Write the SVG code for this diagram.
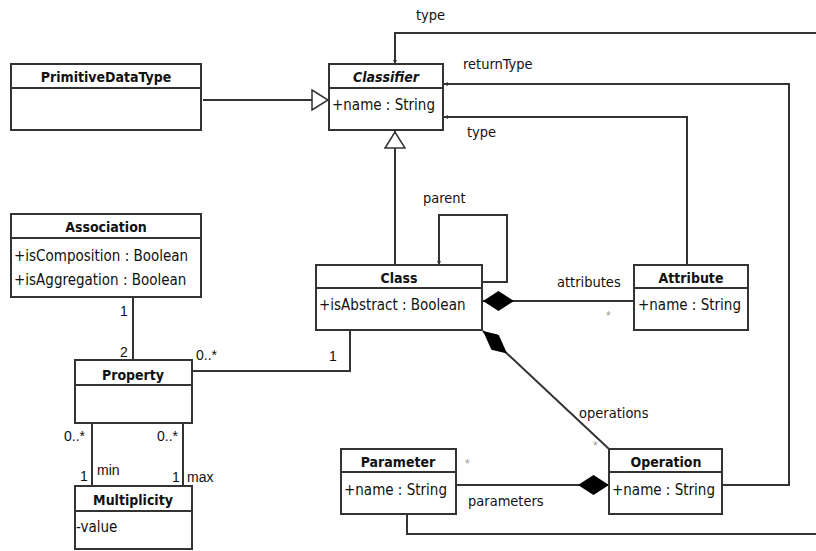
<svg xmlns="http://www.w3.org/2000/svg" width="816" height="551" viewBox="0 0 816 551">
<style>
.box{fill:#fff;stroke:#333;stroke-width:2}
.sep{stroke:#333;stroke-width:2}
.ln{fill:none;stroke:#333;stroke-width:2}
.hd{font-family:"DejaVu Sans Condensed","DejaVu Sans",sans-serif;font-weight:bold;font-size:14px;fill:#111;text-anchor:middle}
.at{font-family:"DejaVu Sans Condensed","DejaVu Sans",sans-serif;font-size:15px;fill:#111}
.lb{font-family:"DejaVu Sans Condensed","DejaVu Sans",sans-serif;font-size:14.5px;fill:#111}
.mu{font-family:"Liberation Sans",Arial,sans-serif;font-size:14px;fill:#111}
.st{font-family:"Liberation Sans",Arial,sans-serif;font-size:12px;fill:#999}
</style>
<defs>
<marker id="tri" viewBox="0 0 18 22" refX="18" refY="11" markerWidth="18" markerHeight="22" markerUnits="userSpaceOnUse" orient="auto">
<path d="M1,1 L17,11 L1,21 Z" fill="#fff" stroke="#333" stroke-width="1.5"/>
</marker>
<marker id="dia" viewBox="0 0 31 20" refX="0" refY="10" markerWidth="31" markerHeight="20" markerUnits="userSpaceOnUse" orient="auto">
<path d="M0,10 L15.5,0 L31,10 L15.5,20 Z" fill="#000"/>
</marker>
<marker id="dia2" viewBox="0 0 33 16" refX="0" refY="8" markerWidth="33" markerHeight="16" markerUnits="userSpaceOnUse" orient="auto">
<path d="M0,8 L14,0 L33,8 L19,16 Z" fill="#000"/>
</marker>
<marker id="arr" viewBox="0 0 4 4" refX="4" refY="2" markerWidth="4" markerHeight="4" markerUnits="userSpaceOnUse" orient="auto">
<path d="M0,0 L4,2 L0,4 Z" fill="#333"/>
</marker>
</defs>

<g id="connectors">
<path class="ln" d="M203,100 L329,100" marker-end="url(#tri)"/>
<path class="ln" d="M395,265 L395,131" marker-end="url(#tri)"/>
<path class="ln" d="M816,33 L395,33 L395,64" marker-end="url(#arr)"/>
<path class="ln" d="M722,485 L789,485 L789,84 L444,84" marker-end="url(#arr)"/>
<path class="ln" d="M687,265 L687,117 L444,117" marker-end="url(#arr)"/>
<path class="ln" d="M482,282 L507,282 L507,215 L439,215 L439,265" marker-end="url(#arr)"/>
<path class="ln" d="M483,301 L634,301" marker-start="url(#dia)"/>
<path class="ln" d="M483,331 L609,449" marker-start="url(#dia2)"/>
<path class="ln" d="M609,485 L457,485" marker-start="url(#dia)"/>
<path class="ln" d="M407,514 L407,534 L816,534"/>
<path class="ln" d="M133,297 L133,360"/>
<path class="ln" d="M192,371 L350,371 L350,330"/>
<path class="ln" d="M92,423 L92,486"/>
<path class="ln" d="M183,423 L183,486"/>
</g>

<g id="PrimitiveDataType">
<rect class="box" x="11" y="64" width="190" height="66"/>
<line class="sep" x1="11" y1="88" x2="201" y2="88"/>
<text class="hd" x="106" y="82">PrimitiveDataType</text>
</g>

<g id="Classifier">
<rect class="box" x="329" y="64" width="114" height="66"/>
<line class="sep" x1="329" y1="88" x2="443" y2="88"/>
<text class="hd" x="386" y="82" font-style="italic">Classifier</text>
<text class="at" x="332" y="110">+name : String</text>
</g>

<g id="Association">
<rect class="box" x="11" y="214" width="190" height="83"/>
<line class="sep" x1="11" y1="238" x2="201" y2="238"/>
<text class="hd" x="106" y="232">Association</text>
<text class="at" x="14" y="261">+isComposition : Boolean</text>
<text class="at" x="14" y="285">+isAggregation : Boolean</text>
</g>

<g id="Class">
<rect class="box" x="316" y="265" width="166" height="65"/>
<line class="sep" x1="316" y1="288" x2="482" y2="288"/>
<text class="hd" x="399" y="283">Class</text>
<text class="at" x="319" y="310">+isAbstract : Boolean</text>
</g>

<g id="Attribute">
<rect class="box" x="634" y="265" width="114" height="65"/>
<line class="sep" x1="634" y1="288" x2="748" y2="288"/>
<text class="hd" x="691" y="283">Attribute</text>
<text class="at" x="638" y="310">+name : String</text>
</g>

<g id="Property">
<rect class="box" x="75" y="360" width="117" height="63"/>
<line class="sep" x1="75" y1="385" x2="192" y2="385"/>
<text class="hd" x="133" y="380">Property</text>
</g>

<g id="Multiplicity">
<rect class="box" x="75" y="486" width="117" height="63"/>
<line class="sep" x1="75" y1="511" x2="192" y2="511"/>
<text class="hd" x="133" y="505">Multiplicity</text>
<text class="at" x="76" y="532">-value</text>
</g>

<g id="Parameter">
<rect class="box" x="341" y="449" width="115" height="65"/>
<line class="sep" x1="341" y1="472" x2="456" y2="472"/>
<text class="hd" x="398" y="467">Parameter</text>
<text class="at" x="344" y="495">+name : String</text>
</g>

<g id="Operation">
<rect class="box" x="609" y="449" width="113" height="65"/>
<line class="sep" x1="609" y1="472" x2="722" y2="472"/>
<text class="hd" x="666" y="467">Operation</text>
<text class="at" x="612" y="495">+name : String</text>
</g>

<g id="labels">
<text class="lb" x="416" y="20">type</text>
<text class="lb" x="463" y="69">returnType</text>
<text class="lb" x="467" y="137">type</text>
<text class="lb" x="423" y="203">parent</text>
<text class="lb" x="557" y="287">attributes</text>
<text class="st" x="606" y="320">*</text>
<text class="lb" x="579" y="418">operations</text>
<text class="st" x="593" y="450">*</text>
<text class="st" x="465" y="468">*</text>
<text class="lb" x="468" y="506">parameters</text>
<text class="mu" x="120" y="316">1</text>
<text class="mu" x="120" y="357">2</text>
<text class="mu" x="196" y="360">0..*</text>
<text class="mu" x="329" y="361">1</text>
<text class="mu" x="64" y="441">0..*</text>
<text class="mu" x="157" y="441">0..*</text>
<text class="mu" x="80" y="481">1</text>
<text class="mu" x="97" y="475">min</text>
<text class="mu" x="172" y="482">1</text>
<text class="mu" x="187" y="482">max</text>
</g>
</svg>
